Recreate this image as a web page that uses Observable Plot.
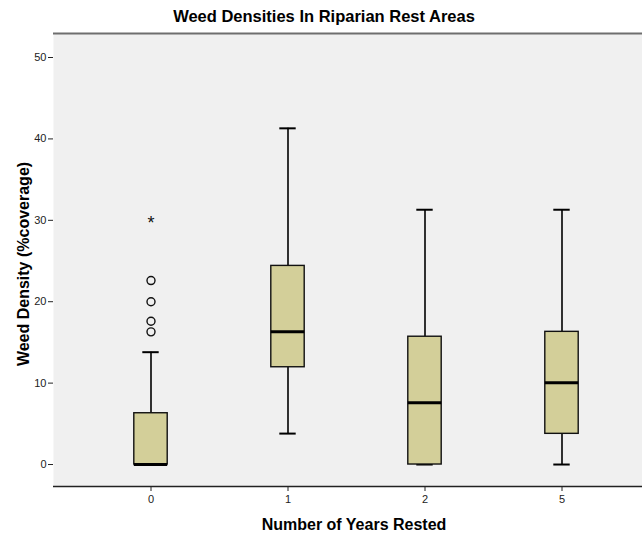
<!DOCTYPE html>
<html>
<head>
<meta charset="utf-8">
<script src="https://cdn.jsdelivr.net/npm/d3@7"></script>
<script src="https://cdn.jsdelivr.net/npm/@observablehq/plot@0.6"></script>
<style>
  body { margin: 0; background: #fff; font-family: Arial, "Liberation Sans", sans-serif; }
  #title { width: 642px; height: 30px; line-height: 32px; text-align: center; font-weight: bold; font-size: 16.5px; color: #000; padding-left: 6px; box-sizing: border-box; }
</style>
</head>
<body>
<div id="title">Weed Densities In Riparian Rest Areas</div>
<div id="chart"></div>
<script>
const years = ["0", "1", "2", "5"];
const lowWhisker = [0, 3.8, 0, 0];
const q1 = [0, 11.95, 0, 3.77];
const median = [0, 16.3, 7.6, 10.05];
const q3 = [6.3, 24.4, 15.7, 16.3];
const highWhisker = [13.8, 41.3, 31.3, 31.3];
const outlierYears = ["0", "0", "0", "0"];
const outlierValues = [16.3, 17.6, 20.0, 22.6];
const extremeYears = ["0"];
const extremeValues = [30.0];
const yTicks = [0, 10, 20, 30, 40, 50];

const boxes = years.map((k, i) => ({year: k, lo: lowWhisker[i], q1: q1[i], med: median[i], q3: q3[i], hi: highWhisker[i]}));
const outliers = outlierYears.map((k, i) => ({year: k, v: outlierValues[i]}));
const extremes = extremeYears.map((k, i) => ({year: k, v: extremeValues[i]}));

const W = 642, H = 507;
const boxInset = 51.8, capInset = 60.3;

const chart = Plot.plot({
  width: W, height: H,
  marginTop: 3, marginBottom: 51, marginLeft: 53, marginRight: 0,
  style: {fontFamily: "Arial, 'Liberation Sans', sans-serif", fontSize: "11px", background: "#fff", overflow: "hidden"},
  x: {type: "band", domain: years, range: [53, 659], paddingInner: 0, paddingOuter: 0.2, label: null},
  y: {domain: [-2.70, 52.95], label: null},
  marks: [
    Plot.frame({fill: "#f0f0f0", stroke: null}),
    Plot.ruleY([52.95], {stroke: "#6e6e6e", strokeWidth: 2}),
    Plot.ruleY([-2.70], {stroke: "#222", strokeWidth: 1.5}),
    Plot.axisY({ticks: yTicks, tickSize: 5, tickPadding: 2, line: true, stroke: "#222", color: "#222", label: null, tickFormat: d => d}),
    Plot.axisX({tickSize: 5, tickPadding: 4, color: "#222", label: null}),
    Plot.ruleX(boxes, {x: "year", y1: "q3", y2: "hi", stroke: "#000", strokeWidth: 1.6}),
    Plot.ruleX(boxes, {x: "year", y1: "lo", y2: "q1", stroke: "#000", strokeWidth: 1.6}),
    Plot.tickY(boxes, {x: "year", y: "hi", stroke: "#000", strokeWidth: 2, insetLeft: capInset, insetRight: capInset}),
    Plot.tickY(boxes, {x: "year", y: "lo", stroke: "#000", strokeWidth: 2, insetLeft: capInset, insetRight: capInset}),
    Plot.barY(boxes, {x: "year", y1: "q1", y2: "q3", fill: "#d3cf99", stroke: "#111", strokeWidth: 1.4, insetLeft: boxInset, insetRight: boxInset}),
    Plot.tickY(boxes, {x: "year", y: "med", stroke: "#000", strokeWidth: 3, insetLeft: boxInset, insetRight: boxInset}),
    Plot.dot(outliers, {x: "year", y: "v", r: 4, stroke: "#111", strokeWidth: 1.4, fill: "none"}),
    Plot.text(extremes, {x: "year", y: "v", text: () => "*", fontSize: 18, dy: 3, fill: "#111"}),
    Plot.text(["Weed Density (%coverage)"], {frameAnchor: "left", textAnchor: "middle", lineAnchor: "middle", dx: -30, dy: 4, rotate: -90, fontSize: 16, fontWeight: "bold", fill: "#000", style: "letter-spacing:0.5px"}),
    Plot.text(["Number of Years Rested"], {frameAnchor: "bottom", dy: 43, dx: 6, fontSize: 16, fontWeight: "bold", fill: "#000"})
  ]
});
document.getElementById("chart").appendChild(chart);
</script>
</body>
</html>
